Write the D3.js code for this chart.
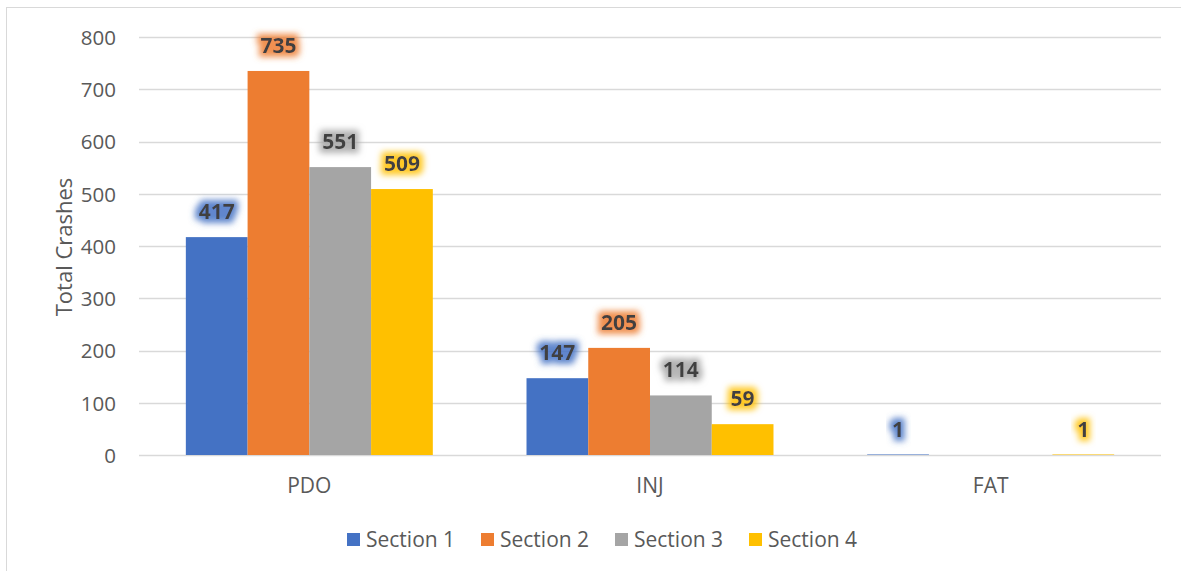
<!DOCTYPE html>
<html><head><meta charset="utf-8">
<script src="https://cdn.jsdelivr.net/npm/d3@7"></script>
<style>
html,body{margin:0;padding:0;background:#fff;}
svg{display:block;font-family:"Open Sans",sans-serif;}
</style></head>
<body>
<svg id="chart" width="1181" height="571"></svg>
<script>
const categories = ["PDO", "INJ", "FAT"];
const seriesNames = ["Section 1", "Section 2", "Section 3", "Section 4"];
const section1 = [417, 147, 1];
const section2 = [735, 205, 0];
const section3 = [551, 114, 0];
const section4 = [509, 59, 1];
const yTicks = [0, 100, 200, 300, 400, 500, 600, 700, 800];
const colors = ["#4472C4", "#ED7D31", "#A5A5A5", "#FFC000"];
const seriesValues = [section1, section2, section3, section4];

const svg = d3.select("#chart");
const W = 1181, H = 571;
const m = {left: 139, right: 1161, top: 37, bottom: 455};

// border
svg.append("rect").attr("x", 6.5).attr("y", 7.5).attr("width", W + 10).attr("height", H + 10)
  .attr("fill", "none").attr("stroke", "#d9d9d9").attr("stroke-width", 1);

const defs = svg.append("defs");
colors.forEach((c, i) => {
  const f = defs.append("filter").attr("id", "glow" + i)
    .attr("x", "-50%").attr("y", "-50%").attr("width", "200%").attr("height", "200%");
  f.append("feMorphology").attr("in", "SourceAlpha").attr("operator", "dilate").attr("radius", 3.5).attr("result", "d");
  f.append("feGaussianBlur").attr("in", "d").attr("stdDeviation", 3).attr("result", "b");
  f.append("feFlood").attr("flood-color", c).attr("flood-opacity", 0.85).attr("result", "fl");
  f.append("feComposite").attr("in", "fl").attr("in2", "b").attr("operator", "in").attr("result", "g");
  const mg = f.append("feMerge");
  mg.append("feMergeNode").attr("in", "g");
  mg.append("feMergeNode").attr("in", "SourceGraphic");
});

const y = d3.scaleLinear().domain([0, 800]).range([m.bottom, m.top]);
const x0 = d3.scaleBand().domain(categories).range([m.left, m.right]).paddingInner(0.275).paddingOuter(0.1375);
const x1 = d3.scaleBand().domain(seriesNames).range([0, x0.bandwidth()]);

// gridlines
svg.append("g").selectAll("line").data(yTicks).join("line")
  .attr("x1", m.left).attr("x2", m.right)
  .attr("y1", d => Math.round(y(d)) + 0.5).attr("y2", d => Math.round(y(d)) + 0.5)
  .attr("stroke", "#d9d9d9").attr("stroke-width", 1.5);

// y axis labels
const yAxis = d3.axisLeft(y).tickValues(yTicks).tickSize(0).tickPadding(0);
const gy = svg.append("g").attr("transform", "translate(116,0)").call(yAxis);
gy.select(".domain").remove();
gy.selectAll("text").attr("fill", "#595959").attr("font-size", 20.5).attr("font-family", "Open Sans").attr("dy", "0.36em");

// y title
svg.append("text").attr("transform", "translate(64,247) rotate(-90)")
  .attr("text-anchor", "middle").attr("dy", "0.36em").attr("fill", "#595959").attr("font-size", 22).text("Total Crashes");

// x labels
const xAxis = d3.axisBottom(x0).tickSize(0).tickPadding(0);
const gx = svg.append("g").attr("transform", "translate(0,485)").call(xAxis);
gx.select(".domain").remove();
gx.selectAll("text").attr("fill", "#595959").attr("font-size", 21).attr("font-family", "Open Sans").attr("dy", "0.36em");

// bars
const groups = svg.append("g").selectAll("g").data(categories).join("g")
  .attr("transform", d => `translate(${x0(d)},0)`);
groups.each(function(cat, ci) {
  const g = d3.select(this);
  seriesNames.forEach((s, si) => {
    const v = seriesValues[si][ci];
    if (v > 0) {
      g.append("rect").attr("x", x1(s)).attr("width", x1.bandwidth())
        .attr("y", y(v)).attr("height", y(0) - y(v)).attr("fill", colors[si]);
      g.append("text").attr("x", x1(s) + x1.bandwidth() / 2).attr("y", y(v) - 25.5)
        .attr("dy", "0.36em")
        .attr("text-anchor", "middle").attr("font-weight", "bold").attr("font-size", 21)
        .attr("fill", "#404040").attr("filter", `url(#glow${si})`).text(v);
    }
  });
});

// legend
const legendX = [347, 481, 615, 749];
const lg = svg.append("g");
seriesNames.forEach((s, i) => {
  lg.append("rect").attr("x", legendX[i]).attr("y", 533).attr("width", 13).attr("height", 13).attr("fill", colors[i]);
  lg.append("text").attr("x", legendX[i] + 19).attr("y", 539.5).attr("dy", "0.36em").attr("font-size", 21).attr("fill", "#595959").text(s);
});
</script>
</body></html>
